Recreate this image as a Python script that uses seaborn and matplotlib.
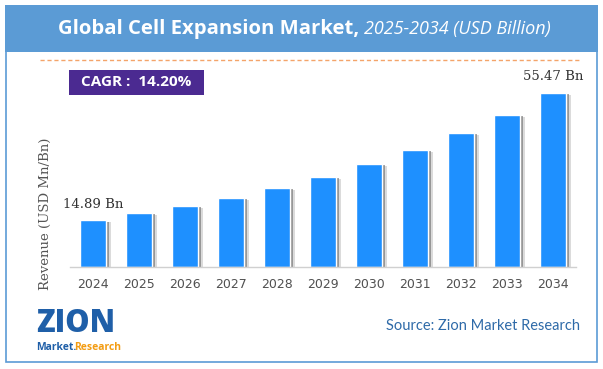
import matplotlib
matplotlib.use("Agg")
import matplotlib.pyplot as plt
import matplotlib.patheffects as pe
from matplotlib.patches import Rectangle
from matplotlib.lines import Line2D
import seaborn as sns

years = ["2024", "2025", "2026", "2027", "2028", "2029", "2030", "2031", "2032", "2033", "2034"]
revenue = [14.89, 17.2, 19.5, 22.0, 25.2, 28.7, 32.8, 37.2, 42.6, 48.4, 55.47]
first_label = "14.89 Bn"
last_label = "55.47 Bn"
cagr_text = "CAGR :  14.20%"

W, H = 603, 369

def fx(px):
    return px / W

def fy(py):
    return 1 - py / H

sns.set_style("white")
fig = plt.figure(figsize=(6.03, 3.69), dpi=100)
fig.patch.set_facecolor("white")

# frame + title band
fig.patches.append(Rectangle((fx(5.5), fy(362)), fx(591.5), (362 - 5.5) / H, transform=fig.transFigure,
                             facecolor="none", edgecolor="#5b9bd5", lw=1.2))
fig.patches.append(Rectangle((fx(5), fy(52)), fx(592.5), 47 / H, transform=fig.transFigure,
                             facecolor="#5b9bd5", edgecolor="none"))
fig.text(fx(359), fy(29), "Global Cell Expansion Market,", ha="right", va="center",
         color="white", fontsize=14.6, fontweight="bold", family="Open Sans")
fig.text(fx(364), fy(29), "2025-2034 (USD Billion)", ha="left", va="center",
         color="white", fontsize=13, style="italic", family="Open Sans")

# dashed separator
fig.lines.append(Line2D([fx(40), fx(580)], [fy(60), fy(60)], transform=fig.transFigure,
                        color="#f4a46a", lw=1, linestyle=(0, (3, 2))))

# CAGR badge
fig.patches.append(Rectangle((fx(69), fy(95)), fx(135), 25 / H, transform=fig.transFigure,
                             facecolor="#4b2a91", edgecolor="none"))
fig.text(fx(136.5), fy(82.5), cagr_text, ha="center", va="center", color="white",
         fontsize=11, fontweight="bold", family="Open Sans")

# bars
ax = fig.add_axes([fx(70), fy(267), fx(576) - fx(70), 188.6 / H])
sns.barplot(x=years, y=revenue, color="#1e90ff", saturation=1, width=0.56, ax=ax)
for p in ax.patches:
    p.set_path_effects([pe.SimplePatchShadow(offset=(4, -1.5), shadow_rgbFace="#9a9a9a", alpha=0.35),
                        pe.SimplePatchShadow(offset=(2, -1), shadow_rgbFace="#6a6a6a", alpha=0.6),
                        pe.Normal()])
ax.set_xlim(-0.5, 10.5)
ax.set_ylim(0, 60)
ax.set_yticks([])
ax.set_xlabel("")
ax.set_ylabel("")
for s in ["top", "right", "left"]:
    ax.spines[s].set_visible(False)
ax.spines["bottom"].set_color("#d0d0d0")
ax.spines["bottom"].set_linewidth(1)
ax.tick_params(axis="x", length=0, pad=8, labelsize=9, labelcolor="#505050")

ax.text(0, revenue[0] + 3, first_label, ha="center", va="bottom", fontsize=9.5,
        family="DejaVu Serif", color="#333333")
ax.text(10, revenue[-1] + 3, last_label, ha="center", va="bottom", fontsize=9.5,
        family="DejaVu Serif", color="#333333")

fig.text(fx(45), fy(214), "Revenue (USD Mn/Bn)", rotation=90, ha="center", va="center",
         fontsize=9.5, family="DejaVu Serif", color="#555555")

# source + logo
fig.text(fx(580), fy(326), "Source: Zion Market Research", ha="right", va="center",
         fontsize=10.5, family="Lato", color="#2e6aa8")
fig.text(fx(36), fy(324), "ZION", ha="left", va="center", fontsize=22, fontweight="heavy",
         family="Open Sans", color="#1f5fa8")
fig.text(fx(36), fy(347), "Market.", ha="left", va="center", fontsize=7.5, fontweight="bold",
         family="Open Sans", color="#1f5fa8")
fig.text(fx(74), fy(347), "Research", ha="left", va="center", fontsize=7.5, fontweight="bold",
         family="Open Sans", color="#f39c12")

fig.savefig("out.png", dpi=100, facecolor="white")
